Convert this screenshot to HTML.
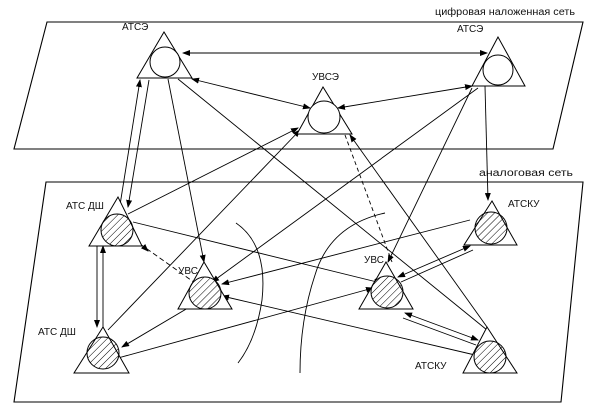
<!DOCTYPE html>
<html><head><meta charset="utf-8"><style>
html,body{margin:0;padding:0;background:#fff;}
svg{display:block;}
text{font-family:"Liberation Sans",sans-serif;font-size:10px;fill:#111;}
</style></head><body>
<svg width="605" height="413" viewBox="0 0 605 413" xmlns="http://www.w3.org/2000/svg">
<defs>
<marker id="a" markerWidth="8" markerHeight="6" refX="7" refY="3" orient="auto" markerUnits="userSpaceOnUse"><path d="M0,0 L8,3 L0,6 z" fill="#000"/></marker>
<marker id="s" markerWidth="8" markerHeight="6" refX="1" refY="3" orient="auto" markerUnits="userSpaceOnUse"><path d="M8,0 L0,3 L8,6 z" fill="#000"/></marker>
<pattern id="h" width="5" height="5" patternUnits="userSpaceOnUse" patternTransform="rotate(45)"><line x1="0" y1="0" x2="0" y2="5" stroke="#000" stroke-width="1"/></pattern>
</defs>
<g fill="none" stroke="#000" stroke-width="1.1">
<polygon points="47,22 583,22 553,149 14,149"/>
<polygon points="46,182 583,182 561,402 14,402"/>
</g>
<text x="435" y="15" font-size="9" textLength="140" lengthAdjust="spacingAndGlyphs">цифровая наложенная сеть</text>
<text x="479" y="176" font-size="9" textLength="94" lengthAdjust="spacingAndGlyphs">аналоговая сеть</text>
<g fill="none" stroke="#000" stroke-width="0.9">
<line x1="183" y1="53" x2="487" y2="53" marker-start="url(#s)" marker-end="url(#a)"/>
<line x1="192" y1="79" x2="310" y2="108" marker-start="url(#s)" marker-end="url(#a)"/>
<line x1="472" y1="86" x2="338" y2="108" marker-start="url(#s)" marker-end="url(#a)"/>
<line x1="485" y1="86" x2="488" y2="200" marker-end="url(#a)"/>
<line x1="140" y1="80" x2="120" y2="205" marker-start="url(#s)"/>
<line x1="149" y1="80" x2="128" y2="207" marker-end="url(#a)"/>
<line x1="168" y1="79" x2="204" y2="262" marker-end="url(#a)"/>
<line x1="178" y1="79" x2="487" y2="330"/>
<line x1="350" y1="135" x2="487" y2="327" marker-start="url(#s)"/>
<line x1="128" y1="214" x2="298" y2="128" marker-end="url(#a)"/>
<line x1="108" y1="330" x2="300" y2="130" marker-end="url(#a)"/>
<line x1="345" y1="135" x2="392" y2="262" stroke-dasharray="4,3"/>
<line x1="472" y1="88" x2="388" y2="262" marker-end="url(#a)"/>
<line x1="478" y1="88" x2="212" y2="282" marker-end="url(#a)"/>
<line x1="97" y1="246" x2="97" y2="327" marker-end="url(#a)"/>
<line x1="103" y1="327" x2="103" y2="246" marker-end="url(#a)"/>
<line x1="133" y1="222" x2="381" y2="283" marker-end="url(#a)"/>
<line x1="140" y1="244" x2="198" y2="285" stroke-dasharray="5,3"/>
<line x1="145" y1="248" x2="148" y2="251" marker-end="url(#a)"/>
<line x1="193" y1="305" x2="122" y2="347" marker-end="url(#a)"/>
<line x1="118" y1="358" x2="373" y2="288" marker-end="url(#a)"/>
<line x1="470" y1="220" x2="222" y2="284" marker-end="url(#a)"/>
<line x1="475" y1="355" x2="222" y2="296" marker-end="url(#a)"/>
<line x1="398" y1="277" x2="470" y2="246" marker-start="url(#s)" marker-end="url(#a)"/>
<line x1="401" y1="282" x2="473" y2="250"/>
<line x1="405" y1="313" x2="478" y2="340" marker-start="url(#s)" marker-end="url(#a)"/>
<line x1="403" y1="318" x2="476" y2="345"/>
<path d="M236,223 Q268,245 262,300 Q256,340 238,363"/>
<path d="M385,213 Q330,225 315,275 Q300,320 300,373"/>
</g>
<g stroke="#000" stroke-width="1" fill="#fff">
<polygon points="164,32 137,78 192,78"/><circle cx="165" cy="62" r="15"/>
<polygon points="498,37 472,86 525,86"/><circle cx="498" cy="70" r="15"/>
<polygon points="323,87 297,134 352,134"/><circle cx="324" cy="117" r="16"/>
<polygon points="118,197 89,246 142,246"/><circle cx="117" cy="230" r="16" fill="url(#h)"/>
<polygon points="103,327 74,373 129,373"/><circle cx="103" cy="353" r="16" fill="url(#h)"/>
<polygon points="204,262 178,309 232,309"/><circle cx="205" cy="293" r="16" fill="url(#h)"/>
<polygon points="386,262 359,309 413,309"/><circle cx="387" cy="292" r="16" fill="url(#h)"/>
<polygon points="492,201 464,245 517,245"/><circle cx="491" cy="228" r="16" fill="url(#h)"/>
<polygon points="487,327 463,373 517,373"/><circle cx="490" cy="357" r="16" fill="url(#h)"/>
</g>
<text x="122" y="30" font-size="9">АТСЭ</text>
<text x="457" y="32" font-size="9">АТСЭ</text>
<text x="312" y="80" font-size="9">УВСЭ</text>
<text x="66" y="209" font-size="9">АТС ДШ</text>
<text x="38" y="335" font-size="9">АТС ДШ</text>
<text x="178" y="274" font-size="9">УВС</text>
<text x="364" y="263" font-size="9">УВС</text>
<text x="508" y="207" font-size="9">АТСКУ</text>
<text x="415" y="369" font-size="9">АТСКУ</text>
</svg>
</body></html>
